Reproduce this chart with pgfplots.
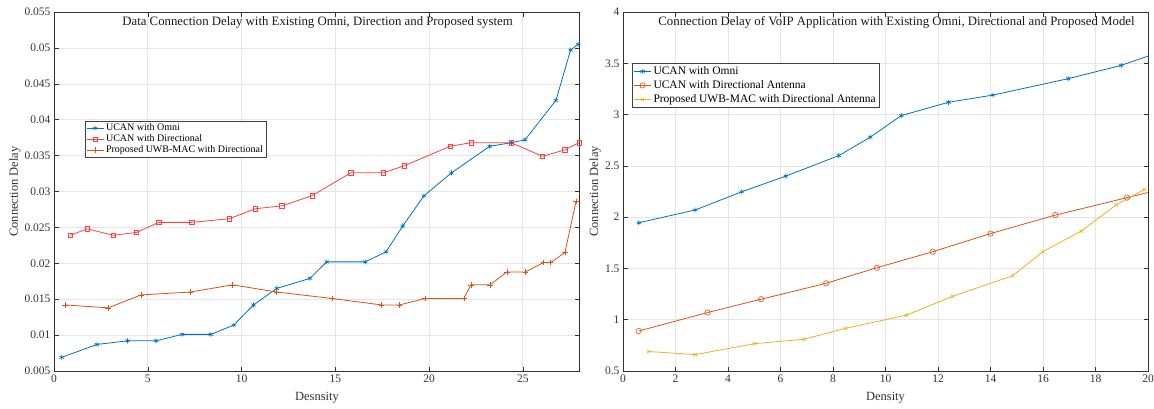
\documentclass[border=0pt]{standalone}
\usepackage{fontspec}
\setmainfont{Liberation Serif}
\usepackage{pgfplots}
\pgfplotsset{compat=1.18}
\definecolor{mblue}{rgb}{0,0.447,0.741}
\definecolor{morange}{rgb}{0.85,0.325,0.098}
\definecolor{myellow}{rgb}{0.929,0.694,0.125}
\definecolor{mred}{rgb}{1,0.25,0.25}
\definecolor{gridc}{rgb}{0.9,0.9,0.9}
\definecolor{axc}{rgb}{0.2,0.2,0.2}
\pgfplotsset{
  mstyle/.style={
    scale only axis, width=525pt, height=359pt,
    scaled x ticks=false, scaled y ticks=false,
    axis line style={axc, line width=0.6pt},
    tick align=inside, tick pos=both, major tick length=4.5pt,
    every tick/.style={axc, line width=0.5pt},
    grid=major, major grid style={gridc, line width=0.6pt},
    tick label style={font=\fontsize{11.5}{13}\selectfont, text=black!80},
    label style={font=\fontsize{12.5}{14}\selectfont, text=black!80},
    title style={font=\fontsize{12.8}{15}\selectfont, text=black!90, anchor=center},
    legend cell align=left,
    legend style={draw=black!75, fill=white, inner sep=1pt},
    every axis plot/.append style={line width=0.8pt},
  }
}
\begin{document}
\begin{tikzpicture}
\useasboundingbox (0pt,0pt) rectangle (1154pt,408pt);
\begin{axis}[mstyle, at={(54pt,37pt)}, anchor=south west,
  xmin=0, xmax=28, ymin=0.005, ymax=0.055,
  xtick={0,5,10,15,20,25}, xticklabels={0,5,10,15,20,25},
  ytick={0.005,0.01,0.015,0.02,0.025,0.03,0.035,0.04,0.045,0.05,0.055},
  yticklabels={0.005,0.01,0.015,0.02,0.025,0.03,0.035,0.04,0.045,0.05,0.055},
  title={Data Connection Delay with Existing Omni, Direction and Proposed system},
  title style={at={(axis description cs:0.502,0.953)}},
  xlabel={Desnsity}, ylabel={Connection Delay},
  xlabel style={at={(axis description cs:0.501,-0.075)}, anchor=center},
  ylabel style={at={(axis description cs:-0.0743,0.5)}, anchor=center},
  legend style={at={(axis description cs:0.059,0.697)}, anchor=north west, font=\fontsize{10}{12}\selectfont, row sep=-1.5pt},
]
\addplot[color=mblue, mark=asterisk, mark size=2.5pt, mark options={line width=0.6pt}] coordinates {
(0.41,0.0069)(2.29,0.0087)(3.92,0.0092)(5.44,0.0092)(6.83,0.0101)(8.37,0.0101)(9.59,0.0114)(10.64,0.0142)(11.88,0.0165)(13.65,0.0179)(14.54,0.0202)(16.6,0.0202)(17.71,0.0216)(18.6,0.0252)(19.73,0.0294)(21.2,0.0326)(23.24,0.0363)(24.4,0.0368)(25.12,0.0372)(26.77,0.0427)(27.55,0.0497)(27.95,0.0505)};
\addlegendentry{UCAN with Omni}
\addplot[color=mred, mark=square, mark size=2.2pt, mark options={line width=0.6pt}] coordinates {
(0.87,0.0239)(1.77,0.0248)(3.17,0.0239)(4.40,0.0243)(5.59,0.0257)(7.34,0.0257)(9.34,0.0262)(10.74,0.0276)(12.14,0.0280)(13.76,0.0294)(15.82,0.0326)(17.57,0.0326)(18.69,0.0336)(21.13,0.0363)(22.25,0.0368)(24.38,0.0368)(26.05,0.0349)(27.25,0.0358)(28,0.0368)};
\addlegendentry{UCAN with Directional}
\addplot[color=morange, mark=+, mark size=2.8pt, mark options={line width=0.6pt}] coordinates {
(0.60,0.0142)(2.89,0.0138)(4.65,0.0156)(7.29,0.0160)(9.52,0.0170)(11.88,0.0160)(14.82,0.0151)(17.47,0.0142)(18.43,0.0142)(19.8,0.0151)(21.86,0.0151)(22.23,0.0170)(23.26,0.0170)(24.15,0.0188)(25.14,0.0188)(26.1,0.0201)(26.49,0.0201)(27.25,0.0215)(27.84,0.0286)};
\addlegendentry{Proposed UWB-MAC with Directional}
\end{axis}
\begin{axis}[mstyle, at={(623pt,37pt)}, anchor=south west,
  xmin=0, xmax=20, ymin=0.5, ymax=4,
  xtick={0,2,4,6,8,10,12,14,16,18,20}, xticklabels={0,2,4,6,8,10,12,14,16,18,20},
  ytick={0.5,1,1.5,2,2.5,3,3.5,4},
  yticklabels={0.5,1,1.5,2,2.5,3,3.5,4},
  title={Connection Delay of VoIP Application with Existing Omni, Directional and Proposed Model},
  title style={at={(axis description cs:0.521,0.955)}},
  xlabel={Density}, ylabel={Connection Delay},
  xlabel style={at={(axis description cs:0.5,-0.075)}, anchor=center},
  ylabel style={at={(axis description cs:-0.0533,0.5)}, anchor=center},
  legend style={at={(axis description cs:0.017,0.858)}, anchor=north west, font=\fontsize{11.5}{13}\selectfont, row sep=0.5pt, inner sep=1.5pt},
]
\addplot[color=mblue, mark=asterisk, mark size=2.5pt, mark options={line width=0.6pt}, mark indices={1,...,11}, legend image post style={mark indices={2}}] coordinates {
(0.6,1.945)(2.75,2.07)(4.52,2.247)(6.2,2.40)(8.22,2.60)(9.42,2.78)(10.6,2.99)(12.4,3.12)(14.09,3.19)(16.96,3.35)(18.98,3.48)(20,3.57)};
\addlegendentry{UCAN with Omni}
\addplot[color=morange, mark=o, mark size=2.7pt, mark options={line width=0.6pt}, mark indices={1,...,9}, legend image post style={mark indices={2}}] coordinates {
(0.6,0.89)(3.22,1.07)(5.26,1.20)(7.74,1.355)(9.67,1.507)(11.8,1.663)(14.0,1.84)(16.47,2.02)(19.2,2.19)(20,2.24)};
\addlegendentry{UCAN with Directional Antenna}
\addplot[color=myellow, mark=x, mark size=2.5pt, mark options={line width=0.6pt}] coordinates {
(0.97,0.69)(2.75,0.66)(5.0,0.766)(6.9,0.81)(8.48,0.916)(10.8,1.045)(12.56,1.228)(14.85,1.43)(15.99,1.663)(17.46,1.865)(18.78,2.118)(19.86,2.27)};
\addlegendentry{Proposed UWB-MAC with Directional Antenna}
\end{axis}
\end{tikzpicture}
\end{document}
